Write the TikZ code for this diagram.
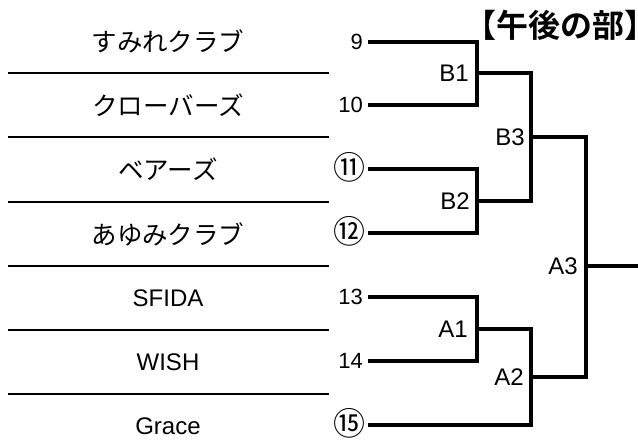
\documentclass[tikz,border=0pt]{standalone}
\usepackage{fontspec}
\setmainfont{Liberation Sans}
\newfontfamily\jp[BoldFont={Noto Sans CJK JP Bold}]{Noto Sans CJK JP}
\begin{document}
\begin{tikzpicture}[x=1pt,y=-1pt,
  team/.style={inner sep=0pt, anchor=center, font=\fontsize{24}{24}\selectfont},
  teamjp/.style={inner sep=0pt, anchor=center, font=\jp\fontsize{25.5}{25.5}\selectfont},
  seed/.style={inner sep=0pt, anchor=east, font=\fontsize{22}{22}\selectfont},
  seedc/.style={inner sep=0pt, anchor=east, font=\jp\fontsize{32}{32}\selectfont},
  lab/.style={inner sep=0pt, anchor=east, font=\fontsize{24}{24}\selectfont},
  br/.style={line width=3.2pt, line cap=butt, line join=miter},
  sep/.style={line width=2pt}]
\useasboundingbox (0,0) rectangle (638,441);
% separators
\foreach \y/\n in {73/a,137/b,202/c,266/d,330/e,394/f}{
  \coordinate (L\n) at (8,\y);
  \coordinate (R\n) at (329,\y);
  \draw[sep] (L\n) -- (R\n);
}
% team names
\node[teamjp] (t1) at (168,41) {すみれクラブ};
\node[teamjp] (t2) at (168,105) {クローバーズ};
\node[teamjp] (t3) at (168,169) {ベアーズ};
\node[teamjp] (t4) at (168,234) {あゆみクラブ};
\node[team] (t5) at (168,298) {SFIDA};
\node[team] (t6) at (168,362) {WISH};
\node[team] (t7) at (168,426) {Grace};
% bracket start points
\coordinate (p9) at (368,42);
\coordinate (p10) at (368,105);
\coordinate (p11) at (368,169);
\coordinate (p12) at (368,233);
\coordinate (p13) at (368,297);
\coordinate (p14) at (368,361);
\coordinate (p15) at (368,425);
% seeds
\node[seed] (s9) at ([xshift=-5pt]p9) {9};
\node[seed] (s10) at ([xshift=-5pt]p10) {10};
\node[seedc] (s11) at ([xshift=-2pt,yshift=1.5pt]p11) {⑪};
\node[seedc] (s12) at ([xshift=-2pt,yshift=1.5pt]p12) {⑫};
\node[seed] (s13) at ([xshift=-5pt]p13) {13};
\node[seed] (s14) at ([xshift=-5pt]p14) {14};
\node[seedc] (s15) at ([xshift=-2pt,yshift=1.5pt]p15) {⑮};
% junctions
\coordinate (jB1) at (477,73);
\coordinate (jB2) at (477,201);
\coordinate (jB3) at (531,137);
\coordinate (jA1) at (477,329);
\coordinate (jA2) at (531,377);
\coordinate (jA3) at (586,266);
\coordinate (fin) at (638,266);
% brackets
\draw[br] (p9) -| (jB1) |- (p10);
\draw[br] (p11) -| (jB2) |- (p12);
\draw[br] (jB1) -| (jB3) |- (jB2);
\draw[br] (p13) -| (jA1) |- (p14);
\draw[br] (jA1) -| (jA2) |- (p15);
\draw[br] (jB3) -| (jA3) |- (jA2);
\draw[br] (jA3) -- (fin);
% labels
\node[lab] (B1) at ([xshift=-8pt]jB1) {B1};
\node[lab] (B2) at ([xshift=-7pt]jB2) {B2};
\node[lab] (B3) at ([xshift=-6pt]jB3) {B3};
\node[lab] (A1) at ([xshift=-9pt]jA1) {A1};
\node[lab] (A2) at ([xshift=-7pt]jA2) {A2};
\node[lab] (A3) at ([xshift=-8pt]jA3) {A3};
% title
\node[inner sep=0pt, anchor=east, font=\jp\bfseries\fontsize{32}{32}\selectfont] (title) at (638,25) {【午後の部\makebox[0.42em][l]{】}};
\end{tikzpicture}
\end{document}
